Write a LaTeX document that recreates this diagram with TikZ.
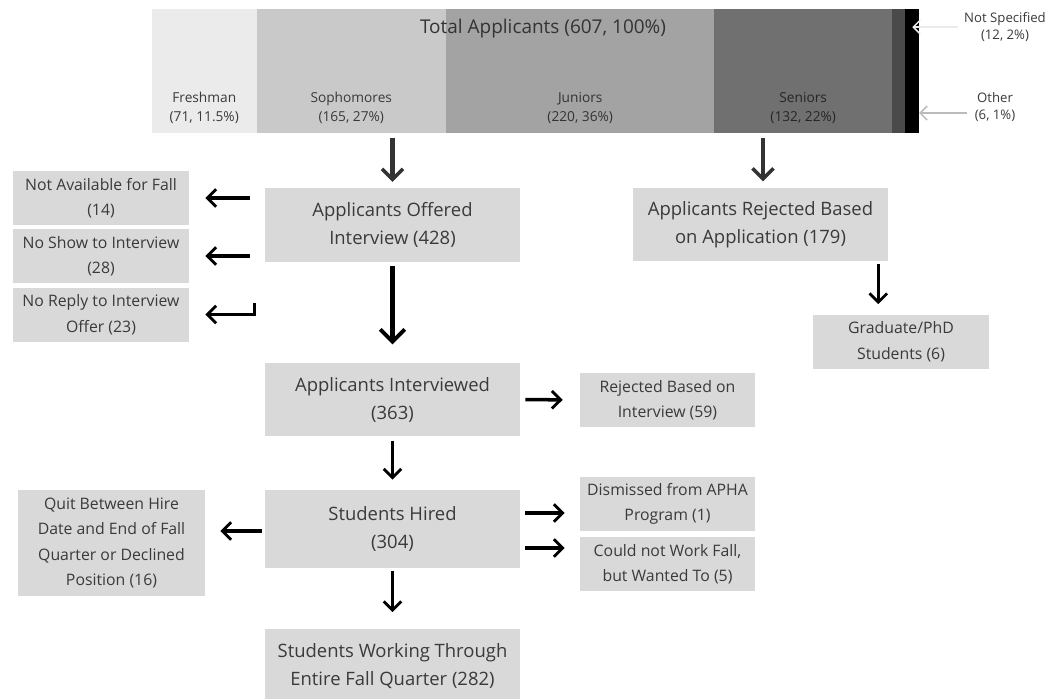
\documentclass[tikz,border=0pt]{standalone}
\usepackage{fontspec}
\setmainfont{Open Sans}
\usetikzlibrary{arrows.meta,positioning,calc}
\definecolor{boxgray}{HTML}{D9D9D9}
\definecolor{txtgray}{HTML}{3A3A3A}
\definecolor{arrgray}{HTML}{333333}
\definecolor{callgray}{HTML}{BBBBBB}

\begin{document}
\begin{tikzpicture}[x=0.02cm, y=-0.02cm,
    mainbox/.style={fill=boxgray, text=txtgray, align=center, inner sep=0pt,
        minimum width=5.1cm, minimum height=1.47cm, font=\fontsize{10.5}{16}\selectfont},
    sidebox/.style={fill=boxgray, text=txtgray, align=center, inner sep=0pt,
        minimum width=3.52cm, minimum height=1.08cm, font=\fontsize{9}{14.5}\selectfont},
    seg/.style={inner sep=0pt, minimum height=2.46cm, fill=#1, draw=#1, line width=0.3pt},
    seglbl/.style={align=center, font=\fontsize{7.8}{10.5}\selectfont},
    arr/.style={-{Straight Barb[length=5pt,width=10pt,line width=1.6pt]}, line width=2pt},
    bigarr/.style={-{Straight Barb[length=7pt,width=14pt,line width=2.2pt]}, line width=2.5pt},
    bararr/.style={-{Straight Barb[length=6pt,width=12pt,line width=2pt]}, line width=2.3pt, arrgray},
    callarr/.style={-{Straight Barb[length=4pt,width=8pt]}, line width=0.9pt, callgray}]
    \useasboundingbox (0,0) rectangle (1063,698);

    % Applicant bar
    \node[seg=black!8, anchor=north west, minimum width=2.08cm] (fresh) at (152,9) {};
    \node[seg=black!21, minimum width=3.78cm, right=0pt of fresh] (soph) {};
    \node[seg=black!36, minimum width=5.36cm, right=0pt of soph] (jun) {};
    \node[seg=black!56, minimum width=3.54cm, right=0pt of jun] (sen) {};
    \node[seg=black!71, minimum width=0.26cm, right=0pt of sen] (oth) {};
    \node[seg=black, minimum width=0.26cm, right=0pt of oth] (nspec) {};

    \node[text=arrgray, font=\fontsize{10.8}{13}\selectfont] (total) at (543,29) {Total Applicants (607, 100\%)};
    \node[seglbl, text=txtgray] (freshlbl) at ([yshift=0.49cm]fresh.south) {Freshman\\(71, 11.5\%)};
    \node[seglbl, text=txtgray] (sophlbl) at ([yshift=0.49cm]soph.south) {Sophomores\\(165, 27\%)};
    \node[seglbl, text=black!80] (junlbl) at ([yshift=0.49cm]jun.south) {Juniors\\(220, 36\%)};
    \node[seglbl, text=black!85] (senlbl) at ([yshift=0.49cm]sen.south) {Seniors\\(132, 22\%)};

    % Callouts for the thin segments
    \node[seglbl, text=txtgray, font=\fontsize{7.5}{10}\selectfont] (nspeclbl) at (1005,27) {Not Specified\\(12, 2\%)};
    \node[seglbl, text=txtgray, font=\fontsize{7.5}{10}\selectfont] (othlbl) at (995,107) {Other\\(6, 1\%)};
    \draw[callarr, white!70!callgray] (nspeclbl.west) -- (nspec.center |- nspeclbl.west);
    \draw[callarr] ($(othlbl.west)+(-2,6)$) -- ($(nspec.east |- othlbl.west)+(0,6)$);

    % Flow boxes
    \node[mainbox] (offer) at (392.5,225) {Applicants Offered\\Interview (428)};
    \node[mainbox] (reject) at (760.5,224.5) {Applicants Rejected Based\\on Application (179)};
    \node[sidebox] (nafall) at (101,198) {Not Available for Fall\\(14)};
    \node[sidebox] (noshow) at (101,256) {No Show to Interview\\(28)};
    \node[sidebox] (noreply) at (101,314.5) {No Reply to Interview\\Offer (23)};
    \node[sidebox] (grad) at (901,341.5) {Graduate/PhD\\Students (6)};
    \node[mainbox] (interv) at (392.5,399.5) {Applicants Interviewed\\(363)};
    \node[sidebox, minimum width=3.5cm] (rejint) at (667.5,400) {Rejected Based on\\Interview (59)};
    \node[mainbox, minimum height=1.56cm] (hired) at (392.5,529) {Students Hired\\(304)};
    \node[sidebox, minimum width=3.74cm, minimum height=2.12cm] (quit) at (111.5,543)
        {Quit Between Hire\\Date and End of Fall\\Quarter or Declined\\Position (16)};
    \node[sidebox, minimum width=3.5cm] (dismiss) at (667.5,504) {Dismissed from APHA\\Program (1)};
    \node[sidebox, minimum width=3.5cm] (couldnot) at (667.5,564) {Could not Work Fall,\\but Wanted To (5)};
    \node[mainbox, minimum height=1.5cm] (working) at (392.5,666) {Students Working Through\\Entire Fall Quarter (282)};

    % Arrows from the bar
    \draw[bararr, shorten <=3pt, shorten >=0.12cm] (offer.north |- soph.south) -- (offer.north);
    \draw[bararr, shorten <=3pt, shorten >=0.12cm] ([xshift=0.05cm]reject.north |- sen.south) -- ([xshift=0.05cm]reject.north);

    % Side exits
    \draw[arr, shorten <=0.3cm, shorten >=0.32cm] (nafall.east -| offer.west) -- (nafall.east);
    \draw[arr, shorten <=0.3cm, shorten >=0.32cm] (noshow.east -| offer.west) -- (noshow.east);
    \draw[arr, shorten >=0.32cm] ([xshift=-0.2cm,yshift=0.23cm]noreply.east -| offer.west)
        |- (noreply.east);
    \draw[arr, shorten <=0.1cm, shorten >=0.34cm] (interv.east) -- (rejint.west);
    \draw[arr, shorten <=0.06cm, shorten >=0.3cm] ([yshift=-0.04cm]hired.west) -- ([yshift=-0.04cm]hired.west -| quit.east);
    \draw[arr, shorten <=0.1cm, shorten >=0.3cm] ([yshift=0.32cm]hired.east) -- ([yshift=0.32cm]hired.east -| dismiss.west);
    \draw[arr, shorten <=0.1cm, shorten >=0.3cm] ([yshift=-0.38cm]hired.east) -- ([yshift=-0.38cm]hired.east -| couldnot.west);
    \draw[arr, shorten <=0.04cm, shorten >=0.2cm] ([xshift=-0.2cm]reject.south east) -- ([xshift=-0.2cm]reject.south east |- grad.north);

    % Main path
    \draw[bigarr, shorten <=0.08cm, shorten >=0.36cm] (offer) -- (interv);
    \draw[arr, shorten <=0.08cm, shorten >=0.2cm] (interv) -- (hired);
    \draw[arr, shorten <=0.06cm, shorten >=0.32cm] (hired) -- (working);
\end{tikzpicture}
\end{document}
